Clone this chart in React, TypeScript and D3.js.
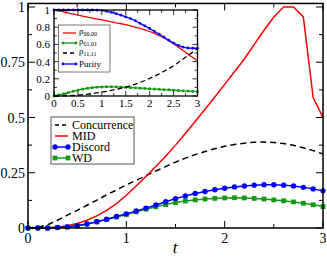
import * as d3 from "d3";

// Tiempos (paso 0.1) compartidos por todas las curvas.
const tiempos = [0, 0.1, 0.2, 0.3, 0.4, 0.5, 0.6, 0.7, 0.8, 0.9, 1, 1.1, 1.2, 1.3, 1.4, 1.5, 1.6, 1.7, 1.8, 1.9, 2, 2.1, 2.2, 2.3, 2.4, 2.5, 2.6, 2.7, 2.8, 2.9, 3];

// Gráfica principal
const concurrence = [0, 0.003, 0.015, 0.035, 0.058, 0.08, 0.103, 0.126, 0.15, 0.172, 0.195, 0.216, 0.237, 0.258, 0.278, 0.298, 0.316, 0.332, 0.346, 0.359, 0.37, 0.378, 0.384, 0.388, 0.389, 0.387, 0.382, 0.374, 0.363, 0.35, 0.335];
const mid = [0, 0, 0.001, 0.004, 0.01, 0.02, 0.035, 0.055, 0.08, 0.11, 0.148, 0.19, 0.233, 0.278, 0.325, 0.375, 0.428, 0.482, 0.537, 0.593, 0.65, 0.707, 0.765, 0.83, 0.895, 0.955, 1, 1, 0.955, 0.59, 0.5];
const discord = [0, 0, 0, 0.002, 0.005, 0.01, 0.018, 0.028, 0.04, 0.052, 0.064, 0.077, 0.09, 0.104, 0.119, 0.133, 0.145, 0.156, 0.165, 0.173, 0.18, 0.186, 0.19, 0.194, 0.196, 0.196, 0.194, 0.19, 0.184, 0.177, 0.168];
const wd = [0, 0, 0, 0.002, 0.005, 0.01, 0.018, 0.028, 0.039, 0.05, 0.061, 0.073, 0.085, 0.096, 0.106, 0.115, 0.122, 0.127, 0.131, 0.134, 0.136, 0.137, 0.136, 0.134, 0.131, 0.127, 0.123, 0.118, 0.112, 0.105, 0.097];

// Recuadro interior
const rho0000 = [1, 0.99, 0.978, 0.965, 0.952, 0.94, 0.928, 0.917, 0.906, 0.895, 0.885, 0.874, 0.862, 0.85, 0.84, 0.83, 0.815, 0.8, 0.785, 0.768, 0.75, 0.728, 0.703, 0.675, 0.643, 0.607, 0.568, 0.528, 0.487, 0.447, 0.407];
const rho0101 = [0, 0.012, 0.025, 0.04, 0.055, 0.068, 0.08, 0.09, 0.097, 0.102, 0.105, 0.107, 0.107, 0.106, 0.104, 0.1, 0.097, 0.094, 0.091, 0.088, 0.084, 0.081, 0.078, 0.074, 0.071, 0.067, 0.064, 0.06, 0.057, 0.053, 0.05];
const rho1111 = [0, 0, 0.001, 0.003, 0.006, 0.01, 0.015, 0.021, 0.028, 0.036, 0.045, 0.055, 0.066, 0.078, 0.09, 0.104, 0.12, 0.138, 0.158, 0.18, 0.204, 0.23, 0.258, 0.288, 0.318, 0.352, 0.39, 0.43, 0.47, 0.51, 0.552];
const purity = [1, 1, 1, 1, 1, 1, 1, 1, 1, 0.998, 0.995, 0.985, 0.972, 0.957, 0.94, 0.92, 0.9, 0.875, 0.845, 0.815, 0.785, 0.752, 0.718, 0.683, 0.648, 0.615, 0.588, 0.568, 0.558, 0.555, 0.555];

const ticksX = [0, 1, 2, 3];
const ticksXMenores = [0.5, 1.5, 2.5];
const ticksY = [0, 0.25, 0.5, 0.75, 1];
const etiquetasY = ["0", "0.25", "0.5", "0.75", "1"];
const ticksYMenores = [0.125, 0.375, 0.625, 0.875];
const limiteY = 1.016;

const insetTicksX = [0, 0.5, 1, 1.5, 2, 2.5, 3];
const insetEtiquetasX = ["0", "0.5", "1", "1.5", "2", "2.5", "3"];
const insetTicksXMenores = [0.25, 0.75, 1.25, 1.75, 2.25, 2.75];
const insetTicksY = [0, 0.2, 0.4, 0.6, 0.8, 1];
const insetEtiquetasY = ["0", "0.2", "0.4", "0.6", "0.8", "1"];
const insetTicksYMenores = [0.1, 0.3, 0.5, 0.7, 0.9];

const ROJO = "#ff0000";
const VERDE = "#129a12";
const AZUL = "#0000ff";
const FUENTE = "Liberation Serif";

type Serie = { valores: number[]; color: string; dash?: string; marca?: "circulo" | "cuadro" };

export default function App() {
  const x = d3.scaleLinear().domain([0, 3]).range([28, 323]);
  const y = d3.scaleLinear().domain([0, 1]).range([228, 7]);
  const xi = d3.scaleLinear().domain([0, 3]).range([54, 197.5]);
  const yi = d3.scaleLinear().domain([0, 1]).range([96, 10]);

  const linea = (sx: d3.ScaleLinear<number, number>, sy: d3.ScaleLinear<number, number>, valores: number[]) =>
    d3.line<number>().x((_, i) => sx(tiempos[i])).y((d) => sy(d))(valores) || "";

  const principales: Serie[] = [
    { valores: concurrence, color: "#000", dash: "6,4" },
    { valores: mid, color: ROJO },
    { valores: wd, color: VERDE, marca: "cuadro" },
    { valores: discord, color: AZUL, marca: "circulo" },
  ];
  const interiores: Serie[] = [
    { valores: rho0000, color: ROJO },
    { valores: rho0101, color: VERDE, marca: "cuadro" },
    { valores: rho1111, color: "#000", dash: "5,3" },
    { valores: purity, color: AZUL, marca: "circulo" },
  ];

  const marcas = (s: Serie, sx: d3.ScaleLinear<number, number>, sy: d3.ScaleLinear<number, number>, tam: number) =>
    s.valores.map((v, i) =>
      s.marca === "circulo" ? (
        <circle key={i} cx={sx(tiempos[i])} cy={sy(v)} r={tam} fill={s.color} />
      ) : (
        <rect key={i} x={sx(tiempos[i]) - tam} y={sy(v) - tam} width={tam * 2} height={tam * 2} fill={s.color} />
      )
    );

  const x0 = x(0), x1 = x(3), y0 = y(0), y1 = y(limiteY);
  const ix0 = xi(0), ix1 = xi(3), iy0 = yi(0), iy1 = yi(1);

  const leyendaPrincipal = [
    { texto: "Concurrence", color: "#000", dash: "4,3", marca: undefined },
    { texto: "MID", color: ROJO, dash: undefined, marca: undefined },
    { texto: "Discord", color: AZUL, dash: undefined, marca: "circulo" },
    { texto: "WD", color: VERDE, dash: undefined, marca: "cuadro" },
  ];
  const leyendaInterior = [
    { sub: "00,00", color: ROJO, dash: undefined, marca: undefined, y: 33 },
    { sub: "01,01", color: VERDE, dash: undefined, marca: "cuadro", y: 43 },
    { sub: "11,11", color: "#000", dash: "4,3", marca: undefined, y: 53 },
    { sub: "", color: AZUL, dash: undefined, marca: "circulo", y: 64 },
  ];

  return (
    <svg width={327} height={258} style={{ position: "fixed", left: 0, top: 0, background: "#fff" }}>
      {/* curvas principales */}
      {principales.map((s, k) => (
        <g key={k}>
          <path d={linea(x, y, s.valores)} fill="none" stroke={s.color} strokeWidth={1.5} strokeDasharray={s.dash} />
          {s.marca && marcas(s, x, y, s.marca === "circulo" ? 2.7 : 2.4)}
        </g>
      ))}

      {/* marco y ticks principales */}
      <rect x={x0} y={y1} width={x1 - x0} height={y0 - y1} fill="none" stroke="#000" strokeWidth={1.5} />
      {ticksX.map((t) => (
        <g key={"tx" + t} stroke="#000" strokeWidth={1}>
          <line x1={x(t)} x2={x(t)} y1={y0} y2={y0 - 7} />
          <line x1={x(t)} x2={x(t)} y1={y1} y2={y1 + 7} />
        </g>
      ))}
      {ticksXMenores.map((t) => (
        <g key={"txm" + t} stroke="#000" strokeWidth={1}>
          <line x1={x(t)} x2={x(t)} y1={y0} y2={y0 - 4} />
          <line x1={x(t)} x2={x(t)} y1={y1} y2={y1 + 4} />
        </g>
      ))}
      {ticksY.map((v) => (
        <g key={"ty" + v} stroke="#000" strokeWidth={1}>
          <line x1={x0} x2={x0 + 7} y1={y(v)} y2={y(v)} />
          <line x1={x1} x2={x1 - 7} y1={y(v)} y2={y(v)} />
        </g>
      ))}
      {ticksYMenores.map((v) => (
        <g key={"tym" + v} stroke="#000" strokeWidth={1}>
          <line x1={x0} x2={x0 + 4} y1={y(v)} y2={y(v)} />
          <line x1={x1} x2={x1 - 4} y1={y(v)} y2={y(v)} />
        </g>
      ))}
      {ticksX.map((t) => (
        <text key={"lx" + t} x={x(t)} y={243} textAnchor="middle" fontSize={14} fontFamily={FUENTE}>
          {t}
        </text>
      ))}
      {ticksY.map((v, i) => (
        <text key={"ly" + v} x={25} y={y(v) + 5} textAnchor="end" fontSize={14} fontFamily={FUENTE}>
          {etiquetasY[i]}
        </text>
      ))}
      <text x={175} y={253} textAnchor="middle" fontSize={17} fontStyle="italic" fontFamily={FUENTE}>
        t
      </text>

      {/* leyenda principal */}
      <rect x={51} y={117} width={83} height={47} fill="#fff" stroke="#555" strokeWidth={1} />
      {leyendaPrincipal.map((e, i) => {
        const ly = 125 + i * 11;
        return (
          <g key={e.texto}>
            <line x1={55} x2={68} y1={ly} y2={ly} stroke={e.color} strokeWidth={1.5} strokeDasharray={e.dash} />
            {e.marca === "circulo" && [55, 68].map((cx) => <circle key={cx} cx={cx} cy={ly} r={2.7} fill={e.color} />)}
            {e.marca === "cuadro" && [55, 68].map((cx) => <rect key={cx} x={cx - 2.4} y={ly - 2.4} width={4.8} height={4.8} fill={e.color} />)}
            <text x={72} y={ly + 4} fontSize={12} fontFamily={FUENTE}>
              {e.texto}
            </text>
          </g>
        );
      })}

      {/* recuadro interior */}
      <rect x={ix0} y={iy1} width={ix1 - ix0} height={iy0 - iy1} fill="#fff" />
      {interiores.map((s, k) => (
        <g key={"i" + k}>
          <path d={linea(xi, yi, s.valores)} fill="none" stroke={s.color} strokeWidth={1.3} strokeDasharray={s.dash} />
          {s.marca && marcas(s, xi, yi, s.marca === "circulo" ? 1.4 : 1.3)}
        </g>
      ))}
      <rect x={ix0} y={iy1} width={ix1 - ix0} height={iy0 - iy1} fill="none" stroke="#000" strokeWidth={1.3} />
      {insetTicksX.map((t) => (
        <g key={"itx" + t} stroke="#000" strokeWidth={0.8}>
          <line x1={xi(t)} x2={xi(t)} y1={iy0} y2={iy0 - 5} />
          <line x1={xi(t)} x2={xi(t)} y1={iy1} y2={iy1 + 5} />
        </g>
      ))}
      {insetTicksXMenores.map((t) => (
        <g key={"itxm" + t} stroke="#000" strokeWidth={0.8}>
          <line x1={xi(t)} x2={xi(t)} y1={iy0} y2={iy0 - 3} />
          <line x1={xi(t)} x2={xi(t)} y1={iy1} y2={iy1 + 3} />
        </g>
      ))}
      {insetTicksY.map((v) => (
        <g key={"ity" + v} stroke="#000" strokeWidth={0.8}>
          <line x1={ix0} x2={ix0 + 5} y1={yi(v)} y2={yi(v)} />
          <line x1={ix1} x2={ix1 - 5} y1={yi(v)} y2={yi(v)} />
        </g>
      ))}
      {insetTicksYMenores.map((v) => (
        <g key={"itym" + v} stroke="#000" strokeWidth={0.8}>
          <line x1={ix0} x2={ix0 + 3} y1={yi(v)} y2={yi(v)} />
          <line x1={ix1} x2={ix1 - 3} y1={yi(v)} y2={yi(v)} />
        </g>
      ))}
      {insetTicksX.map((t, i) => (
        <text key={"ilx" + t} x={xi(t)} y={107} textAnchor="middle" fontSize={11} fontFamily={FUENTE}>
          {insetEtiquetasX[i]}
        </text>
      ))}
      {insetTicksY.map((v, i) => (
        <text key={"ily" + v} x={50} y={yi(v) + 4} textAnchor="end" fontSize={11} fontFamily={FUENTE}>
          {insetEtiquetasY[i]}
        </text>
      ))}

      {/* leyenda interior */}
      <rect x={58.5} y={25} width={51.5} height={47} fill="#fff" stroke="#555" strokeWidth={0.8} />
      {leyendaInterior.map((e) => (
        <g key={e.color}>
          <line x1={63} x2={76} y1={e.y} y2={e.y} stroke={e.color} strokeWidth={1.3} strokeDasharray={e.dash} />
          {e.marca === "circulo" && [63, 76].map((cx) => <circle key={cx} cx={cx} cy={e.y} r={1.4} fill={e.color} />)}
          {e.marca === "cuadro" && [63, 76].map((cx) => <rect key={cx} x={cx - 1.3} y={e.y - 1.3} width={2.6} height={2.6} fill={e.color} />)}
          {e.sub ? (
            <text x={79} y={e.y + 1} fontSize={9} fontFamily={FUENTE}>
              ρ
              <tspan fontSize={6} dy={2}>
                {e.sub}
              </tspan>
            </text>
          ) : (
            <text x={79} y={e.y + 3} fontSize={9} fontFamily={FUENTE}>
              Purity
            </text>
          )}
        </g>
      ))}
    </svg>
  );
}
